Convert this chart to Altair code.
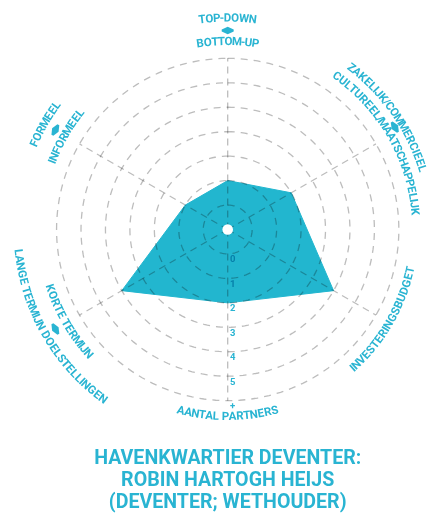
import math
import altair as alt
import pandas as pd

# ---------------- data ----------------
axis_angles = [90, 30, -30, -90, -150, 150]          # clockwise from the top
labels_outer = ["TOP-DOWN", "ZAKELIJK/COMMERCIEEL", "", "",
                "LANGE TERMIJN DOELSTELLINGEN", "FORMEEL"]
labels_inner = ["BOTTOM-UP", "CULTUREEL/MAATSCHAPPELIJK", "INVESTERINGSBUDGET",
                "AANTAL PARTNERS", "KORTE TERMIJN", "INFORMEEL"]
scores = [1, 2, 4, 2, 4, 1]
tick_labels = ["0", "1", "2", "3", "4", "5", "+"]
title_lines = ["HAVENKWARTIER DEVENTER:", "ROBIN HARTOGH HEIJS", "(DEVENTER; WETHOUDER)"]

# ---------------- style ----------------
TEAL = "#22b6cf"
TEXT = "#29b4d2"
GRID = "#bdbdbd"
FONT = "Roboto"
K = 24.45            # px per radial unit
W, H = 422, 437
CX, CY = 227.7 - 8, 229.5 - 8
XMIN = -CX / K
XMAX = XMIN + W / K
YMAX = CY / K
YMIN = YMAX - H / K
N_RINGS = 7          # value -1 .. 6


def rad(v):
    return v + 1.0   # radial scale: value -1 -> centre, value 6 (+) -> outer ring


xs = alt.Scale(domain=[XMIN, XMAX], nice=False, zero=False)
ys = alt.Scale(domain=[YMIN, YMAX], nice=False, zero=False)


def X(f):
    return alt.X(f, type="quantitative", scale=xs, axis=None)


def Y(f):
    return alt.Y(f, type="quantitative", scale=ys, axis=None)


# polygon
poly = []
for i, (a, v) in enumerate(zip(axis_angles, scores)):
    r = rad(v)
    poly.append({"o": i, "x": r * math.cos(math.radians(a)), "y": r * math.sin(math.radians(a))})
poly.append(dict(poly[0], o=len(poly)))
poly_df = pd.DataFrame(poly)

# rings
rings = []
for k in range(1, N_RINGS + 1):
    for j in range(181):
        t = math.radians(90 - 2 * j)
        rings.append({"ring": k, "o": j, "x": k * math.cos(t), "y": k * math.sin(t)})
rings_df = pd.DataFrame(rings)

# spokes
spokes_df = pd.DataFrame([
    {"x": 0, "y": 0,
     "x2": N_RINGS * math.cos(math.radians(a)), "y2": N_RINGS * math.sin(math.radians(a))}
    for a in axis_angles])

centre_df = pd.DataFrame([{"x": 0, "y": 0}])

ticks_df = pd.DataFrame([
    {"x": 2.2 / K, "y": -(rad(i) + 5.5 / K), "t": t} for i, t in enumerate(tick_labels)])

# curved labels, character by character (approximate Roboto Bold advance widths)
CW = {"A": 722, "B": 722, "C": 722, "D": 722, "E": 667, "F": 611, "G": 778, "H": 722,
      "I": 278, "J": 556, "K": 722, "L": 611, "M": 833, "N": 722, "O": 778, "P": 667,
      "Q": 778, "R": 722, "S": 667, "T": 611, "U": 722, "V": 667, "W": 944, "X": 667,
      "Y": 667, "Z": 611, " ": 278, "/": 278, "-": 333}
WSCALE = 0.9
FS = 11.5
R_OUT, R_IN, R_ARROW = 211.0, 187.5, 199.0
# (radius, angle) overrides so the right-hand label stays inside the page
OUT_OVERRIDE = {1: (203.0, 35.0)}
ARROW_OVERRIDE = {1: (196.0, 31.5)}


def arc_chars(text, phi_deg, r_px):
    upper = math.sin(math.radians(phi_deg)) > 0
    ws = [CW.get(c, 667) * WSCALE * FS / 1000 for c in text]
    L = sum(ws)
    out, s = [], 0.0
    for c, w in zip(text, ws):
        d = (s + w / 2 - L / 2) / r_px
        phi = math.radians(phi_deg) + (-d if upper else d)
        deg = math.degrees(phi)
        rot = (90 - deg) if upper else (-90 - deg)
        out.append({"x": r_px / K * math.cos(phi), "y": r_px / K * math.sin(phi),
                    "ch": c, "rot": rot % 360})
        s += w
    return out


chars, arrows = [], []
for i, (a, lo, li) in enumerate(zip(axis_angles, labels_outer, labels_inner)):
    chars += arc_chars(li, a, R_IN)
    if lo:
        ro, ao = OUT_OVERRIDE.get(i, (R_OUT, a))
        chars += arc_chars(lo, ao, ro)
        ra, aa = ARROW_OVERRIDE.get(i, (R_ARROW, a))
        upper = math.sin(math.radians(a)) > 0
        rot = (90 - aa) if upper else (-90 - aa)
        arrows.append({"x": ra / K * math.cos(math.radians(aa)),
                       "y": ra / K * math.sin(math.radians(aa)), "rot": rot % 360})
chars_df = pd.DataFrame(chars)
arrows_df = pd.DataFrame(arrows)

# ---------------- layers ----------------
polygon = alt.Chart(poly_df).mark_line(fill=TEAL, stroke=TEAL, strokeWidth=1).encode(
    x=X("x"), y=Y("y"), order="o:Q")

ring_layer = alt.Chart(rings_df).mark_line(
    color=GRID, strokeWidth=1.3, strokeDash=[7, 6], blend="multiply").encode(
    x=X("x"), y=Y("y"), detail="ring:N", order="o:Q")

spoke_layer = alt.Chart(spokes_df).mark_rule(
    color=GRID, strokeWidth=1.3, strokeDash=[7, 5], blend="multiply").encode(
    x=X("x"), y=Y("y"), x2="x2:Q", y2="y2:Q")

centre = alt.Chart(centre_df).mark_circle(size=113, color="white", opacity=1).encode(
    x=X("x"), y=Y("y"))

tick_layer = alt.Chart(ticks_df).mark_text(
    align="left", baseline="middle", fontSize=9.5, font=FONT, fontWeight="bold",
    color=TEXT, blend="multiply").encode(x=X("x"), y=Y("y"), text="t:N")

label_layer = alt.Chart(chars_df).mark_text(
    align="center", baseline="middle", fontSize=FS, font=FONT, fontWeight="bold",
    color=TEXT).encode(x=X("x"), y=Y("y"), text="ch:N",
                       angle=alt.Angle("rot:Q", scale=None))

arrow_layer = alt.Chart(arrows_df).mark_point(
    shape="M0,-0.62L1,-0.18L1,0.18L0,0.62L-1,0.18L-1,-0.18Z", filled=True, size=144,
    color=TEXT, opacity=1, strokeWidth=0).encode(
    x=X("x"), y=Y("y"), angle=alt.Angle("rot:Q", scale=None))

chart = alt.layer(polygon, ring_layer, spoke_layer, centre, tick_layer, label_layer,
                  arrow_layer).properties(
    width=W, height=H,
    background="white",
    autosize=alt.AutoSizeParams(type="none"),
    padding={"left": 0, "top": 0, "right": 0, "bottom": 70},
    title=alt.TitleParams(text=title_lines, orient="bottom", anchor="middle", frame="group",
                          fontSize=19.6, font=FONT, fontWeight="bold", color=TEXT,
                          lineHeight=22.1, offset=4, dx=8.7, baseline="top"),
).configure_view(stroke="transparent", strokeWidth=0)

chart.save("out.html", embed_options={"renderer": "svg", "actions": False})
